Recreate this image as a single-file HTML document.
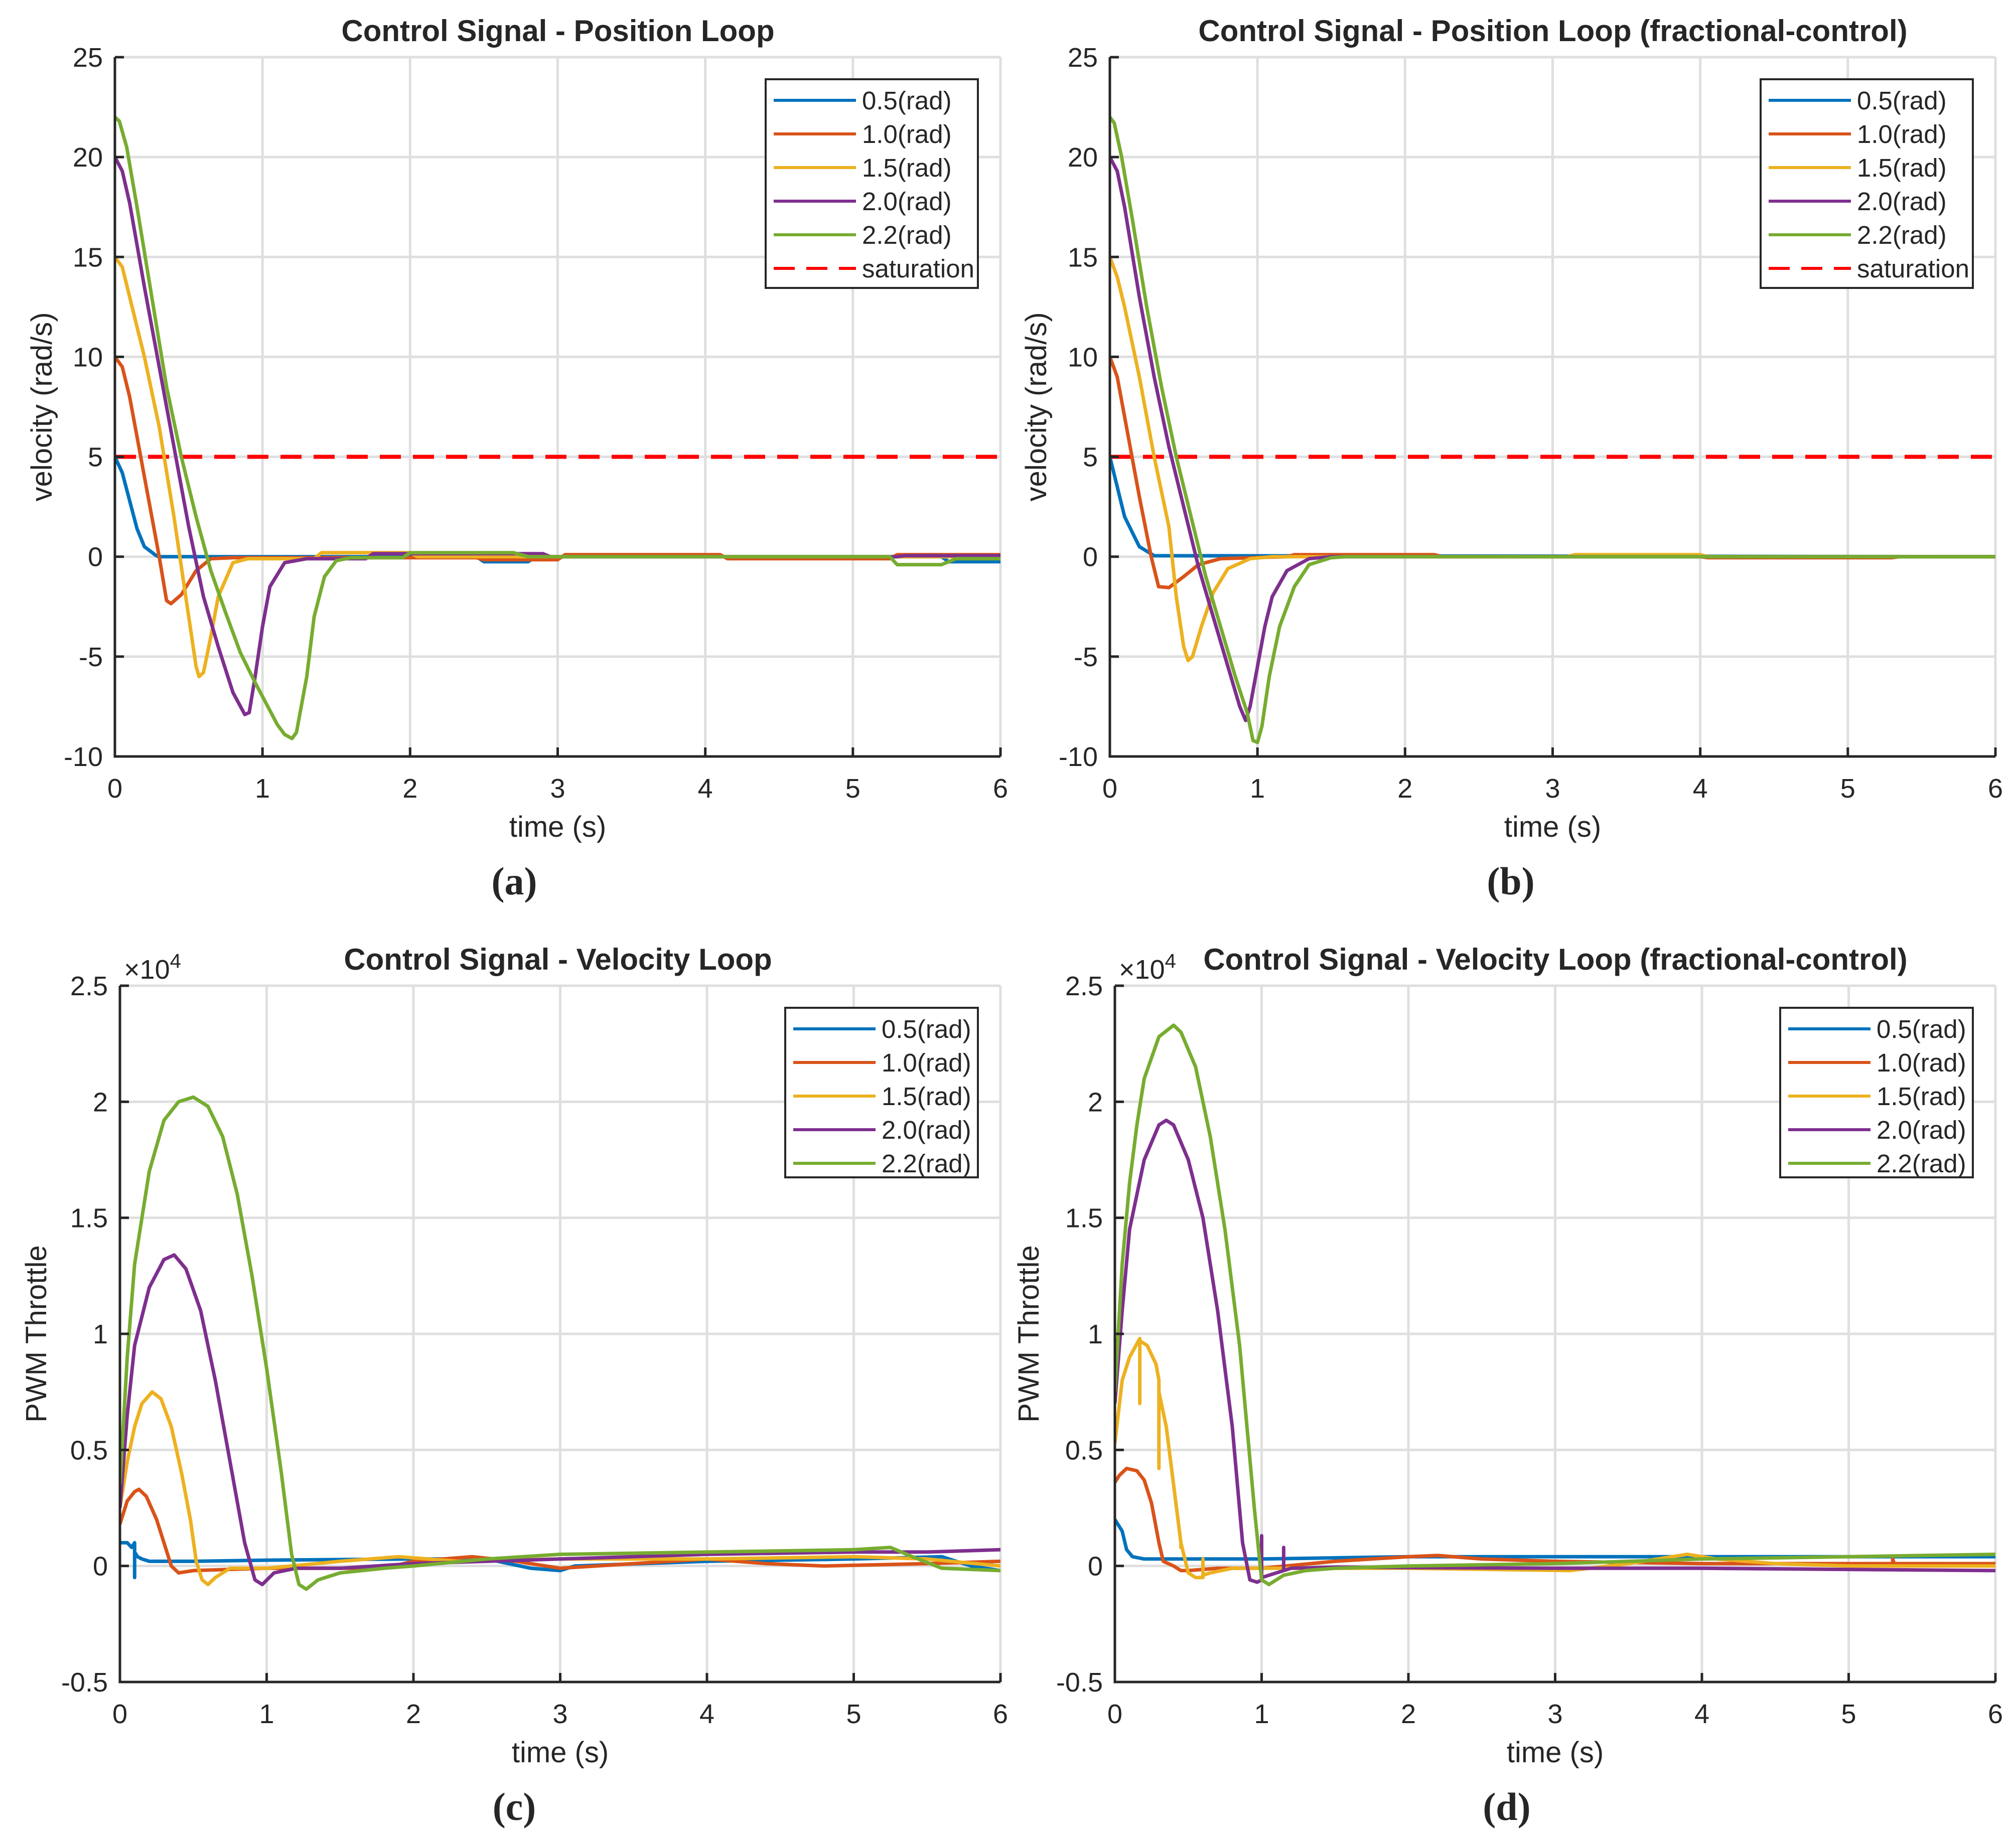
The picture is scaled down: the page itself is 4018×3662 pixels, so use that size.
<!DOCTYPE html>
<html><head><meta charset="utf-8"><style>
html,body{margin:0;padding:0;background:#fff;}
svg{display:block;}
text{font-family:"Liberation Sans",sans-serif;fill:#262626;}
</style></head><body>
<svg id="fig" xmlns="http://www.w3.org/2000/svg" width="4018" height="3662" viewBox="0 0 4018 3662"></svg>
<script>
// ---- Data arrays ----
const seriesNames = ["0.5(rad)","1.0(rad)","1.5(rad)","2.0(rad)","2.2(rad)"];
const xTicks = [0,1,2,3,4,5,6];
const yTicksPos = [-10,-5,0,5,10,15,20,25];
const yTicksVel = [-0.5,0,0.5,1,1.5,2,2.5];
const saturationValue = 5;

// Panel (a)
const aT05 = [0,0.05,0.1,0.15,0.2,0.28,0.3,2.45,2.5,2.8,2.85,5.6,5.65,6];
const aV05 = [5,4.2,2.8,1.4,0.5,0.05,0,0,-0.25,-0.25,0,0,-0.25,-0.25];
const aT10 = [0,0.05,0.1,0.2,0.3,0.35,0.38,0.45,0.55,0.65,0.8,2.45,2.5,3,3.05,4.1,4.15,5.25,5.3,6];
const aV10 = [10,9.5,8,4,0,-2.2,-2.35,-1.9,-0.7,-0.1,-0.05,-0.05,-0.15,-0.15,0.1,0.1,-0.1,-0.1,0.1,0.1];
const aT15 = [0,0.05,0.1,0.2,0.3,0.4,0.5,0.55,0.57,0.6,0.65,0.7,0.8,0.9,1.35,1.4,2,2.05,6];
const aV15 = [15,14.5,13,10,6.5,2,-3,-5.5,-6,-5.8,-4,-2,-0.3,-0.1,-0.1,0.2,0.2,0,0];
const aT20 = [0,0.05,0.1,0.2,0.3,0.4,0.5,0.6,0.7,0.8,0.88,0.91,0.95,1.0,1.05,1.15,1.3,1.7,1.75,2.9,2.95,5.3,5.35,6];
const aV20 = [20,19.3,17.7,13.5,9.5,5.5,1.5,-2,-4.5,-6.8,-7.9,-7.8,-6,-3.5,-1.5,-0.3,-0.1,-0.1,0.15,0.15,0,0,0.05,0.05];
const aT22 = [0,0.03,0.08,0.15,0.25,0.35,0.45,0.55,0.65,0.75,0.85,0.95,1.05,1.1,1.15,1.2,1.23,1.3,1.35,1.42,1.5,1.6,1.95,2.0,2.7,2.8,5.25,5.3,5.6,5.7,6];
const aV22 = [22,21.8,20.5,17.5,13,8.5,5,2,-0.7,-2.8,-4.8,-6.3,-7.7,-8.4,-8.9,-9.1,-8.8,-6,-3,-1,-0.2,-0.05,-0.05,0.2,0.2,0,0,-0.4,-0.4,-0.1,-0.1];

// Panel (b)
const bT05 = [0,0.05,0.1,0.2,0.3,6];
const bV05 = [5,3.5,2,0.5,0.05,0];
const bT10 = [0,0.05,0.1,0.2,0.28,0.33,0.4,0.5,0.6,0.75,1.2,1.25,2.2,2.25,4,4.05,5.3,5.35,6];
const bV10 = [10,9,7,3,0,-1.5,-1.55,-1,-0.4,-0.1,0,0.1,0.1,0,0,-0.05,-0.05,0,0];
const bT15 = [0,0.05,0.1,0.2,0.3,0.4,0.45,0.5,0.53,0.56,0.62,0.7,0.8,0.95,1.1,3.1,3.15,4,4.05,6];
const bV15 = [15,14,12.5,9,5,1.5,-2,-4.5,-5.2,-5,-3.5,-1.8,-0.6,-0.1,0,0,0.1,0.1,0,0];
const bT20 = [0,0.05,0.1,0.2,0.3,0.4,0.5,0.6,0.7,0.8,0.88,0.92,0.95,1.0,1.05,1.1,1.2,1.35,1.5,6];
const bV20 = [20,19.3,17.5,13,9,5.5,2.5,-0.5,-3,-5.5,-7.5,-8.2,-7.5,-5.5,-3.5,-2,-0.7,-0.1,0,0];
const bT22 = [0,0.03,0.08,0.15,0.25,0.35,0.45,0.55,0.65,0.75,0.85,0.93,0.97,1.0,1.03,1.08,1.15,1.25,1.35,1.5,1.6,6];
const bV22 = [22,21.7,20,17,12.5,8.5,5,2,-1,-3.5,-6,-7.8,-9.2,-9.3,-8.5,-6,-3.5,-1.5,-0.4,-0.05,0,0];

// Panel (c)  (values x 1e4)
const cT05 = [0,0.05,0.08,0.1,0.1,0.1,0.12,0.15,0.2,0.5,1,2,2.5,2.8,3,3.1,4,5,5.6,5.8,6];
const cV05 = [0.1,0.1,0.08,0.1,-0.05,0.06,0.04,0.03,0.02,0.02,0.025,0.03,0.03,-0.01,-0.02,0.0,0.02,0.03,0.04,0.0,-0.02];
const cT10 = [0,0.05,0.1,0.13,0.18,0.25,0.3,0.35,0.4,0.5,1,1.5,1.8,2.0,2.4,2.7,3.0,3.5,4,4.4,4.8,5.5,6];
const cV10 = [0.18,0.28,0.32,0.33,0.3,0.2,0.1,0,-0.03,-0.02,-0.01,-0.01,-0.01,0.02,0.04,0.02,-0.01,0.01,0.03,0.01,0.0,0.01,0.02];
const cT15 = [0,0.05,0.1,0.15,0.22,0.28,0.35,0.42,0.48,0.52,0.56,0.6,0.65,0.75,1.0,1.5,1.9,2.3,3,4,5,5.5,6];
const cV15 = [0.25,0.45,0.6,0.7,0.75,0.72,0.6,0.4,0.2,0.02,-0.06,-0.08,-0.05,-0.01,-0.01,0.02,0.04,0.02,0.03,0.03,0.04,0.03,0.0];
const cT20 = [0,0.05,0.1,0.2,0.3,0.37,0.45,0.55,0.65,0.75,0.85,0.92,0.97,1.05,1.2,1.5,2,3,4,5,5.5,6];
const cV20 = [0.25,0.65,0.95,1.2,1.32,1.34,1.28,1.1,0.8,0.45,0.1,-0.06,-0.08,-0.03,-0.01,-0.01,0.01,0.03,0.05,0.06,0.06,0.07];
const cT22 = [0,0.05,0.1,0.2,0.3,0.4,0.5,0.6,0.7,0.8,0.9,1.0,1.1,1.17,1.22,1.27,1.35,1.5,1.8,2,2.5,3,4,5,5.25,5.4,5.6,6];
const cV22 = [0.35,0.9,1.3,1.7,1.92,2.0,2.02,1.98,1.85,1.6,1.25,0.85,0.4,0.05,-0.08,-0.1,-0.06,-0.03,-0.01,0.0,0.03,0.05,0.06,0.07,0.08,0.04,-0.01,-0.02];

// Panel (d)  (values x 1e4)
const dT05 = [0,0.05,0.08,0.12,0.2,0.5,1,2,3,4,6];
const dV05 = [0.2,0.15,0.07,0.04,0.03,0.03,0.03,0.04,0.04,0.04,0.04];
const dT10 = [0,0.03,0.08,0.15,0.2,0.25,0.3,0.33,0.4,0.45,0.5,0.7,1,1.5,2.0,2.2,2.5,3,4,5,5.3,5.3,5.31,6];
const dV10 = [0.36,0.39,0.42,0.41,0.37,0.27,0.1,0.02,0.0,-0.02,-0.02,-0.01,-0.01,0.02,0.04,0.045,0.03,0.02,0.01,0.01,0.01,0.03,0.01,0.01];
const dT15 = [0,0.05,0.1,0.17,0.17,0.17,0.22,0.28,0.3,0.3,0.3,0.35,0.4,0.45,0.45,0.45,0.5,0.55,0.6,0.6,0.6,0.65,0.8,1,2,3.1,3.5,3.9,4.1,4.5,5,6];
const dV15 = [0.53,0.8,0.9,0.98,0.7,0.97,0.95,0.87,0.8,0.42,0.75,0.6,0.35,0.1,0.08,0.1,-0.03,-0.05,-0.05,0.03,-0.04,-0.03,-0.01,-0.01,-0.01,-0.02,0.01,0.05,0.03,0.01,0.0,0.0];
const dT20 = [0,0.05,0.1,0.2,0.3,0.35,0.4,0.5,0.6,0.7,0.8,0.87,0.92,0.97,1.0,1.0,1.0,1.05,1.15,1.15,1.15,1.2,1.5,3,4,6];
const dV20 = [0.7,1.1,1.45,1.75,1.9,1.92,1.9,1.75,1.5,1.1,0.6,0.1,-0.06,-0.07,-0.06,0.13,-0.05,-0.04,-0.02,0.08,-0.02,-0.01,-0.005,-0.01,-0.01,-0.02];
const dT22 = [0,0.05,0.1,0.15,0.2,0.3,0.4,0.45,0.55,0.65,0.75,0.85,0.95,1.0,1.05,1.15,1.3,1.5,2,3,4,5,6];
const dV22 = [0.75,1.3,1.65,1.9,2.1,2.28,2.33,2.3,2.15,1.85,1.45,0.95,0.25,-0.06,-0.08,-0.04,-0.02,-0.01,0.0,0.01,0.03,0.04,0.05];

const colors = ["#0072BD","#D95319","#EDB120","#7E2F8E","#77AC30"];
const NS = "http://www.w3.org/2000/svg";
const svg = document.getElementById("fig");

function mk(tag, attrs, parent){
  const e = document.createElementNS(NS, tag);
  for (const k in attrs) e.setAttribute(k, attrs[k]);
  (parent||svg).appendChild(e);
  return e;
}

function panel(cfg){
  const g = mk("g", {});
  
  
  const L=cfg.x0, R=cfg.x1, T=cfg.y0, B=cfg.y1;
  const ymin=cfg.yticks[0], ymax=cfg.yticks[cfg.yticks.length-1];
  const sx = t => L + (t-0)/(6-0)*(R-L);
  const sy = v => B - (v-ymin)/(ymax-ymin)*(B-T);
  const grid = mk("g", {stroke:"#dfdfdf","stroke-width":5}, g);
  
  
  xTicks.forEach(t => mk("line",{x1:sx(t),x2:sx(t),y1:T,y2:B},grid));
  cfg.yticks.forEach(v => mk("line",{x1:L,x2:R,y1:sy(v),y2:sy(v)},grid));
  const clipId = "clip-"+cfg.id;
  const cp = mk("clipPath",{id:clipId},g);
  mk("rect",{x:L,y:T-4,width:R-L,height:B-T+8},cp);
  const sg = mk("g",{"clip-path":"url(#"+clipId+")"},g);
  if (cfg.sat){
    const sl = mk("line",{x1:L,x2:R,y1:sy(saturationValue),y2:sy(saturationValue),stroke:"#ff0000","stroke-width":8,"stroke-dasharray":"42,24"},sg);
    
    
  }
  cfg.series.forEach((s,i) => {
    const pts = s[0].map((t,j) => sx(t).toFixed(1)+","+sy(s[1][j]).toFixed(1)).join(" ");
    const p = mk("polyline",{points:pts,fill:"none",stroke:colors[i],"stroke-width":7,"stroke-linejoin":"round"},sg);
    
    
  });
  const ax = mk("g",{stroke:"#262626","stroke-width":5,fill:"none"},g);
  
  
  mk("polyline",{points:`${L},${T} ${L},${B} ${R},${B}`},ax);
  xTicks.forEach(t => mk("line",{x1:sx(t),x2:sx(t),y1:B,y2:B-18},ax));
  cfg.yticks.forEach(v => mk("line",{x1:L,x2:L+18,y1:sy(v),y2:sy(v)},ax));
  xTicks.forEach(t => {
    const tx = mk("text",{x:sx(t),y:B+82,"text-anchor":"middle","font-size":54},g);
    tx.textContent = t;
    
    
  });
  cfg.yticks.forEach(v => {
    const ty = mk("text",{x:L-24,y:sy(v)+19,"text-anchor":"end","font-size":54},g);
    ty.textContent = v;
    
    
  });
  if (cfg.exp){
    const ex = mk("text",{x:L+8,y:T-14,"font-size":54},g);
    ex.innerHTML = '×10<tspan dy="-22" font-size="40">4</tspan>';
    
    
  }
  const ti = mk("text",{x:cfg.titleX,y:T-32,"text-anchor":"middle","font-size":60,"font-weight":"bold",fill:"#000"},g);
  ti.textContent = cfg.title;
  
  
  const xl = mk("text",{x:(L+R)/2,y:B+160,"text-anchor":"middle","font-size":58},g);
  xl.textContent = "time (s)";
  
  
  const yl = mk("text",{x:0,y:0,"text-anchor":"middle","font-size":58,transform:`translate(${cfg.ylabX},${(T+B)/2}) rotate(-90)`},g);
  yl.textContent = cfg.ylabel;
  
  
  const pl = mk("text",{x:cfg.letX,y:B+275,"text-anchor":"middle","font-size":78,"font-weight":"bold",style:"font-family:'Liberation Serif',serif",fill:"#000"},g);
  pl.textContent = cfg.letter;
  
  
  const n = cfg.sat ? 6 : 5;
  const lw = cfg.sat ? 423 : 384;
  const lh = cfg.sat ? 416 : 338;
  const lx = R-45-lw, ly = T+44;
  const lg = mk("g",{},g);
  
  
  mk("rect",{x:lx,y:ly,width:lw,height:lh,fill:"#fff",stroke:"#262626","stroke-width":4},lg);
  for (let i=0;i<n;i++){
    const yy = ly+42+i*67;
    const e = mk("g",{},lg);
    
    
    if (i<5) mk("line",{x1:lx+16,x2:lx+180,y1:yy,y2:yy,stroke:colors[i],"stroke-width":6},e);
    else mk("line",{x1:lx+16,x2:lx+180,y1:yy,y2:yy,stroke:"#ff0000","stroke-width":6,"stroke-dasharray":"42,23"},e);
    const lt = mk("text",{x:lx+192,y:yy+18,"font-size":51,fill:"#000"},e);
    lt.textContent = i<5 ? seriesNames[i] : "saturation";
  }
}

panel({id:"a",x0:229,x1:1994,y0:114,y1:1508,yticks:yTicksPos,sat:true,title:"Control Signal - Position Loop",titleX:1112,ylabel:"velocity (rad/s)",ylabX:103,letter:"(a)",letX:1025,
  series:[[aT05,aV05],[aT10,aV10],[aT15,aV15],[aT20,aV20],[aT22,aV22]]});
panel({id:"b",x0:2212,x1:3977,y0:114,y1:1508,yticks:yTicksPos,sat:true,title:"Control Signal - Position Loop (fractional-control)",titleX:3095,ylabel:"velocity (rad/s)",ylabX:2085,letter:"(b)",letX:3011,
  series:[[bT05,bV05],[bT10,bV10],[bT15,bV15],[bT20,bV20],[bT22,bV22]]});
panel({id:"c",x0:239,x1:1994,y0:1965,y1:3353,yticks:yTicksVel,exp:true,title:"Control Signal - Velocity Loop",titleX:1112,ylabel:"PWM Throttle",ylabX:92,letter:"(c)",letX:1025,
  series:[[cT05,cV05],[cT10,cV10],[cT15,cV15],[cT20,cV20],[cT22,cV22]]});
panel({id:"d",x0:2222,x1:3977,y0:1965,y1:3353,yticks:yTicksVel,exp:true,title:"Control Signal - Velocity Loop (fractional-control)",titleX:3100,ylabel:"PWM Throttle",ylabX:2070,letter:"(d)",letX:3003,
  series:[[dT05,dV05],[dT10,dV10],[dT15,dV15],[dT20,dV20],[dT22,dV22]]});
</script>
</body></html>
